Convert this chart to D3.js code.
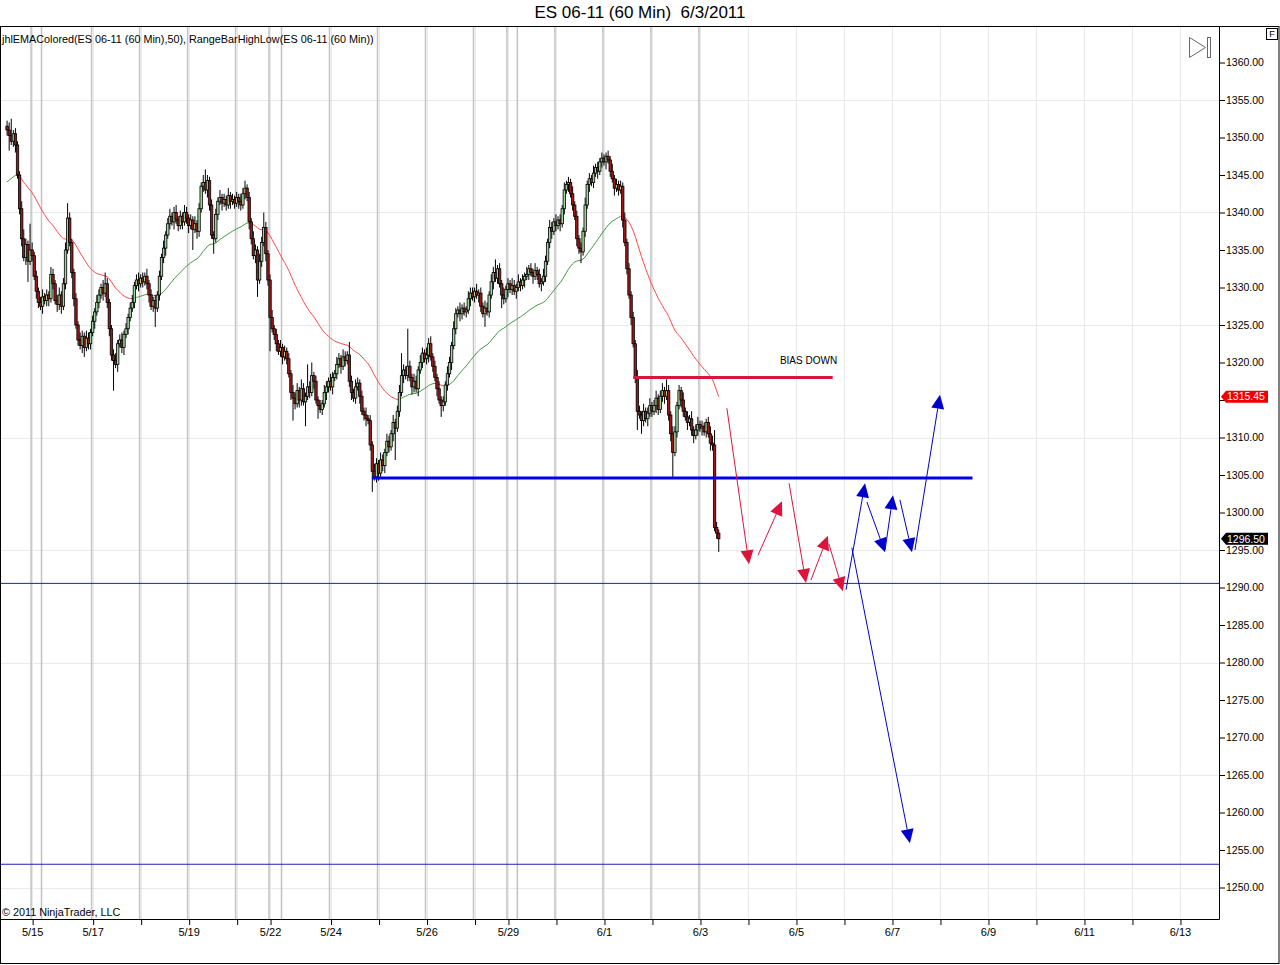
<!DOCTYPE html>
<html>
<head>
<meta charset="utf-8">
<title>ES 06-11 (60 Min) 6/3/2011</title>
<script src="https://cdnjs.cloudflare.com/ajax/libs/d3/7.8.5/d3.min.js"></script>
<style>
  body { margin: 0; background: #fff; }
  svg { display: block; font-family: "Liberation Sans", Arial, sans-serif; }
</style>
</head>
<body>
<div id="chart"></div>
<script>
// ---- data: hourly ES 06-11 bars, first bar index = 1, open of each bar = previous close
const firstBar = 1;
const firstOpen = 1351.5;
const closes = [
  1351.0, 1350.25, 1349.5, 1350.5, 1349.0, 1345.0, 1340.5, 1336.5, 1334.0, 1335.75, 1333.5, 1335.0, 1334.25,
  1331.5, 1329.5, 1328.0, 1327.5, 1328.75, 1328.25, 1329.0, 1328.5, 1331.75, 1330.5, 1328.25, 1327.75, 1329.0, 1327.5,
  1330.5, 1335.0, 1339.25, 1336.0, 1332.0, 1328.5, 1325.0, 1323.0, 1322.25, 1323.5, 1322.0, 1323.25, 1322.5,
  1324.0, 1325.5, 1326.75, 1328.0, 1329.0, 1330.0, 1329.25, 1330.5, 1328.0, 1324.5, 1321.0, 1320.25, 1319.75, 1322.5, 1323.0,
  1322.0, 1323.75, 1324.5, 1326.0, 1327.25, 1328.0, 1330.25, 1331.0, 1330.5, 1331.25, 1330.75, 1331.5, 1330.5, 1329.0, 1327.5,
  1328.25, 1327.25, 1329.0, 1331.5, 1334.0, 1335.25, 1337.0, 1338.5, 1339.5, 1338.75, 1340.0, 1339.0, 1338.25, 1339.5, 1338.75,
  1340.0, 1339.25, 1338.25, 1339.0,
  1337.75, 1338.5, 1337.5, 1340.5, 1343.5, 1344.0, 1343.0, 1344.25, 1341.0, 1337.0, 1336.5, 1339.75, 1341.5, 1342.0, 1341.25,
  1341.75, 1341.0, 1342.25, 1341.5, 1341.75, 1341.25, 1342.0, 1341.5, 1341.0, 1342.5, 1343.25, 1342.0,
  1338.75, 1336.5, 1334.25, 1335.0, 1331.0, 1333.5, 1336.0, 1338.0, 1334.5, 1331.0, 1326.0, 1324.5, 1323.75, 1322.5, 1321.5,
  1322.0, 1320.75, 1321.5, 1320.5, 1318.5, 1316.0, 1315.25, 1314.5,
  1316.25, 1315.0, 1316.5, 1314.75, 1315.5, 1316.75, 1316.0, 1318.25, 1317.5, 1315.0, 1314.25, 1313.75, 1314.5, 1316.0, 1316.75,
  1317.5, 1316.75, 1318.0, 1318.5, 1319.75, 1320.5, 1319.5, 1320.75, 1320.25, 1321.0, 1317.5, 1316.0, 1315.25, 1316.75, 1317.25,
  1315.5, 1313.5, 1313.0, 1312.5, 1312.25, 1309.0, 1305.5, 1304.75, 1306.5, 1305.25, 1307.0, 1306.25,
  1308.0, 1309.5, 1308.75, 1310.5, 1312.0, 1311.25, 1313.5, 1316.0, 1318.25, 1319.0, 1318.25, 1319.5, 1318.0, 1316.75, 1317.5,
  1316.5, 1319.0, 1320.0, 1321.25, 1320.5, 1321.0, 1322.5, 1320.75, 1319.5, 1318.0, 1316.5, 1315.0, 1314.25, 1314.75, 1317.0,
  1318.5, 1320.0, 1322.25, 1324.5, 1326.5, 1327.0,
  1326.5, 1327.25, 1326.75, 1327.0, 1328.5, 1329.25, 1328.75, 1329.5, 1329.0, 1329.25, 1327.5, 1326.5, 1327.25, 1326.75, 1329.0,
  1330.75, 1332.0, 1331.25, 1332.5, 1330.5, 1329.0, 1328.5, 1329.75, 1330.5, 1329.75, 1330.25, 1329.5, 1330.0, 1330.75, 1330.25,
  1331.0, 1331.5, 1331.75, 1332.5, 1332.0, 1331.5, 1332.25, 1331.75, 1330.5,
  1330.75, 1331.5, 1333.5, 1336.0, 1338.0, 1337.5, 1338.75, 1338.25, 1339.0, 1338.5, 1340.5, 1343.0, 1343.75, 1344.0, 1342.5,
  1341.0, 1339.5, 1336.5, 1335.25, 1334.75, 1337.5, 1341.0, 1343.75, 1344.5, 1344.0, 1345.25, 1346.0, 1345.5, 1346.75, 1347.25,
  1346.75, 1347.5, 1347.0, 1345.5, 1344.5, 1343.25, 1343.75, 1343.0, 1343.5,
  1339.0, 1336.0, 1332.5, 1329.0, 1326.0, 1322.5, 1318.0, 1313.5, 1313.0, 1312.25, 1313.5, 1312.5, 1313.25, 1314.25, 1313.5,
  1314.25, 1315.25, 1313.75, 1315.5, 1316.25, 1315.5, 1316.25, 1313.0, 1310.5, 1308.0, 1310.75, 1314.25, 1316.25, 1315.0, 1313.5,
  1312.75, 1312.0, 1312.5, 1311.0, 1310.25, 1311.0, 1311.75, 1311.25, 1311.5, 1310.75, 1312.0, 1310.5, 1309.25, 1309.0, 1298.0,
  1297.25, 1296.5
];
// wick length above max(open, close) and below min(open, close), in points
const wickUp = [
  0.75, 1.0, 2.25, 0.5, 0.75, 0.5, 0.5, 1.0, 1.25, 0.75,  0.5, 3.5, 1.0, 0.5, 0.75, 0.5, 0.75, 1.0, 0.5, 0.75,
  0.5, 1.0, 0.75, 0.5, 0.75, 1.0, 0.5, 0.75, 1.0, 2.0,    0.75, 0.5, 0.5, 0.75, 0.5, 1.0, 0.75, 0.5, 1.0, 0.75,
  0.5, 0.75, 0.5, 1.0, 0.75, 0.5, 1.0, 1.5, 0.75, 0.5,    0.5, 0.75, 1.0, 0.5, 0.75, 1.0, 0.5, 0.75, 0.5, 0.75,
  1.0, 0.5, 0.75, 1.0, 0.5, 0.75, 0.5, 1.0, 0.5, 0.75,    0.5, 0.75, 0.5, 0.75, 0.5, 1.0, 0.5, 0.75, 1.0, 0.5,
  0.75, 1.0, 0.5, 0.75, 0.5, 1.0, 0.75, 0.5, 0.75, 0.5,   1.0, 0.5, 0.75, 0.5, 1.0, 1.75, 0.75, 0.5, 0.75, 0.5,
  0.75, 0.5, 1.0, 0.5, 0.75, 0.5, 1.0, 0.5, 0.75, 0.5,    0.75, 0.5, 1.0, 0.75, 1.0, 0.5, 0.75, 0.5, 1.0, 0.75,
  0.5, 1.0, 0.75, 2.0, 0.75, 0.5, 0.75, 1.0, 0.5, 0.75,   0.5, 1.0, 0.5, 0.75, 0.5, 0.75, 0.5, 1.0, 0.75, 1.0,
  0.5, 1.25, 0.75, 0.5, 3.0, 0.75, 1.75, 0.5, 0.75, 0.5,  0.75, 0.5, 1.0, 0.75, 0.5, 1.0, 0.75, 0.5, 1.0, 0.75,
  0.5, 1.0, 0.75, 0.5, 1.75, 0.75, 0.5, 1.0, 0.75, 0.5,   0.75, 0.5, 1.0, 0.5, 0.75, 0.5, 1.0, 0.75, 0.5, 1.0,
  0.75, 0.5, 1.0, 0.75, 0.5, 1.0, 0.5, 0.75, 1.0, 3.0,    0.75, 0.5, 5.0, 0.75, 0.5, 1.0, 0.75, 0.5, 1.0, 0.75,
  0.5, 1.0, 0.75, 1.0, 0.5, 0.75, 0.5, 1.0, 0.5, 0.75,    0.5, 1.0, 0.75, 0.5, 1.0, 0.75, 0.5, 1.0, 0.5, 0.75,
  0.5, 1.0, 0.75, 0.75, 0.5, 1.0, 0.5, 0.75, 0.5, 1.0,    0.75, 0.5, 1.0, 0.75, 1.75, 0.5, 0.75, 0.5, 1.0, 0.5,
  0.75, 0.5, 1.0, 0.75, 0.5, 1.0, 0.5, 0.75, 0.5, 1.0,    0.5, 0.75, 0.5, 1.0, 0.5, 0.75, 0.5, 1.0, 0.75, 0.5,
  1.0, 0.75, 0.5, 1.0, 0.5, 0.75, 0.5, 1.0, 0.5, 0.75,    0.5, 1.0, 0.5, 0.75, 0.5, 0.75, 0.5, 1.0, 0.5, 0.75,
  0.5, 1.0, 0.5, 0.75, 0.5, 0.75, 0.5, 0.5, 0.75, 0.5,    1.0, 0.5, 0.75, 0.5, 0.75, 0.5, 1.0, 0.5, 0.75, 0.5,
  0.75, 0.5, 1.0, 0.75, 0.5, 1.0, 0.5, 0.75, 1.0, 0.5,    0.75, 1.0, 0.5, 0.75, 1.0, 0.5, 1.5, 0.75, 0.5, 1.0,
  0.75, 0.5, 0.75, 0.5, 1.0, 0.5, 0.75, 0.5, 1.0, 0.5,    0.75, 1.0, 0.5, 0.75, 0.5, 0.5, 0.75, 1.0, 1.0, 2.0,
  0.75, 0.5
];
const wickDn = [
  0.75, 2.0, 0.5, 0.75, 1.0, 0.5, 0.75, 1.0, 0.5, 1.0,    2.75, 0.5, 0.75, 0.5, 1.0, 0.75, 0.5, 1.0, 0.5, 0.75,
  1.0, 0.5, 0.75, 0.5, 1.0, 0.75, 1.0, 0.5, 0.75, 0.5,    0.5, 0.75, 1.0, 0.5, 0.75, 0.5, 1.0, 1.25, 0.5, 0.75,
  0.75, 0.5, 1.0, 0.5, 0.75, 0.5, 1.0, 0.5, 0.75, 1.0,    0.75, 4.0, 0.5, 1.0, 0.5, 0.75, 1.0, 0.5, 0.75, 0.5,
  0.5, 0.75, 0.5, 1.0, 0.5, 0.75, 0.5, 0.75, 1.0, 0.5,    0.75, 2.5, 0.5, 0.75, 0.5, 0.75, 1.0, 0.5, 0.75, 0.5,
  1.0, 0.5, 0.75, 0.5, 1.0, 0.5, 0.75, 1.0, 0.5, 2.75,    0.5, 1.0, 0.75, 0.5, 0.75, 0.5, 1.0, 0.75, 0.5, 2.0,
  0.5, 0.75, 0.5, 1.0, 0.5, 0.75, 0.5, 1.0, 0.5, 0.75,    0.5, 1.0, 0.75, 0.5, 0.75, 0.5, 1.0, 0.75, 0.5, 1.0,
  2.25, 0.5, 0.75, 0.5, 1.0, 0.75, 4.5, 0.5, 0.75, 1.0,   0.5, 0.75, 1.0, 0.5, 0.75, 0.5, 1.0, 3.0, 0.75, 0.5,
  1.0, 0.75, 0.5, 3.25, 0.5, 0.75, 0.5, 1.0, 0.5, 1.75,   0.5, 0.75, 0.5, 1.0, 0.75, 0.5, 1.0, 0.5, 0.75, 0.5,
  1.0, 0.5, 0.75, 0.5, 0.75, 1.0, 0.5, 0.75, 0.5, 1.0,    0.5, 0.75, 1.0, 0.5, 0.75, 2.75, 0.5, 0.75, 1.0, 0.5,
  0.75, 1.0, 0.5, 0.75, 0.5, 1.0, 4.25, 0.5, 0.75, 0.5,   1.0, 0.5, 0.75, 0.5, 1.0, 0.75, 0.5, 1.0, 0.5, 0.75,
  0.5, 0.75, 1.0, 0.5, 0.75, 0.5, 1.0, 0.5, 1.5, 0.75,    0.5, 0.75, 0.5, 1.0, 0.5, 0.75, 0.5, 1.0, 0.75, 0.5,
  0.75, 0.5, 1.0, 0.5, 0.75, 0.5, 1.0, 0.75, 0.5, 1.75,   0.5, 0.75, 0.5, 1.0, 0.5, 0.75, 0.5, 1.75, 0.75, 0.5,
  1.0, 0.5, 0.75, 0.5, 1.0, 0.5, 0.75, 0.5, 1.0, 0.5,     0.75, 0.5, 1.0, 0.5, 0.75, 0.5, 1.0, 0.5, 0.75, 0.5,
  0.75, 1.0, 0.5, 0.75, 0.5, 1.0, 0.5, 0.75, 0.5, 1.0,    0.5, 0.75, 0.5, 1.0, 0.75, 1.5, 0.5, 0.75, 0.5, 1.0,
  0.5, 0.75, 0.5, 1.0, 0.5, 0.75, 0.5, 1.0, 0.5, 0.75,    0.5, 1.0, 0.5, 0.75, 0.5, 1.0, 0.5, 0.75, 0.5, 1.0,
  0.5, 0.75, 2.5, 0.5, 1.75, 0.75, 0.5, 1.0, 0.5, 0.75,   0.5, 1.0, 0.75, 0.5, 0.75, 1.0, 0.5, 0.75, 1.0, 3.25,
  0.5, 0.75, 0.5, 1.0, 0.75, 0.5, 1.0, 0.5, 0.75, 1.0,    0.5, 0.75, 0.5, 1.0, 0.5, 0.75, 0.5, 1.0, 0.75, 0.5,
  0.75, 1.75
];

// EMA(50) indicator, started from the value it had before the first visible bar
const emaPeriod = 50;
const emaSeed = 1343.8;

// x axis: bar index of each tick and its label ("" = tick without label)
const tickBars   = [13, 42, 65, 88, 111, 127, 156, 179, 202, 225, 241, 264, 287, 310, 333,
                    356, 379, 402, 425, 448, 471, 494, 517, 540, 563];
const tickLabels = ["5/15", "5/17", "", "5/19", "", "5/22", "5/24", "", "5/26", "", "5/29", "", "6/1", "", "6/3",
                    "", "6/5", "", "6/7", "", "6/9", "", "6/11", "", "6/13"];
const sessionBreaks = [12.5, 17.5, 41.5, 64.5, 87.5, 110.5, 126.5, 132.5, 155.5, 178.5, 201.5,
                       224.5, 240.5, 245.5, 263.5, 286.5, 309.5, 332.5];
const priceTicks = d3.range(1250, 1361, 5);
const gridPrices = [1250, 1265, 1280, 1295, 1310, 1325, 1340, 1355];

// drawings: [barFrom, barTo, price]
const biasLine = [301, 396.6, 1318.0];
const supportLine = [175.8, 463.6, 1304.6];
const fullWidthLines = [1290.55, 1253.1];
const biasText = {bar: 371.3, price: 1320.3, text: "BIAS DOWN"};
// arrows: [barFrom, priceFrom, barTo, priceTo]
const redArrows = [
  [345.9, 1313.9, 356.5, 1293.1],
  [360.8, 1294.3, 372.3, 1301.5],
  [375.7, 1303.9, 383.8, 1290.6],
  [386.2, 1291.0, 394.3, 1296.9],
  [394.8, 1295.8, 401.5, 1289.5]
];
const blueArrows = [
  [403.0, 1289.7, 412.1, 1303.9],
  [405.8, 1295.3, 433.6, 1255.9],
  [413.0, 1301.4, 421.7, 1294.7],
  [421.7, 1295.0, 425.5, 1302.3],
  [428.8, 1301.7, 434.6, 1294.7],
  [436.0, 1295.0, 448.0, 1315.7]
];

// ---- layout
const W = 1280, H = 965;
const plot = {left: 0, top: 26, right: 1219, bottom: 919};
const barSpacing = 48 / 23;

const x = d3.scaleLinear().domain([0, 582]).range([5, 5 + 582 * barSpacing]);
const y = d3.scaleLinear().domain([1250, 1360]).range([887.5, 62.5]);

// build bars
const bars = closes.map((c, k) => {
  const o = k === 0 ? firstOpen : closes[k - 1];
  return {
    i: firstBar + k,
    open: o,
    close: c,
    high: Math.max(o, c) + wickUp[k],
    low: Math.min(o, c) - wickDn[k]
  };
});
const alpha = 2 / (emaPeriod + 1);
let prev = emaSeed;
bars.forEach(b => { b.ema = prev + alpha * (b.close - prev); b.emaPrev = prev; prev = b.ema; });
const lastBar = bars[bars.length - 1];
const markers = [lastBar.ema, lastBar.close];

const svg = d3.select("#chart").append("svg")
  .attr("width", W).attr("height", H);

svg.append("rect").attr("width", W).attr("height", H).attr("fill", "#fff");

svg.append("defs").append("clipPath").attr("id", "plotClip")
  .append("rect")
  .attr("x", plot.left).attr("y", plot.top)
  .attr("width", plot.right - plot.left).attr("height", plot.bottom - plot.top);

const g = svg.append("g").attr("clip-path", "url(#plotClip)");

// grid
g.selectAll(".hgrid").data(gridPrices).enter().append("line")
  .attr("x1", plot.left).attr("x2", plot.right)
  .attr("y1", d => Math.round(y(d)) + 0.5).attr("y2", d => Math.round(y(d)) + 0.5)
  .attr("stroke", "#e9e9e9");
g.selectAll(".vgrid").data(tickBars).enter().append("line")
  .attr("x1", d => Math.round(x(d)) + 0.5).attr("x2", d => Math.round(x(d)) + 0.5)
  .attr("y1", plot.top).attr("y2", plot.bottom)
  .attr("stroke", "#e9e9e9");

// session breaks
g.selectAll(".sess").data(sessionBreaks).enter().append("line")
  .attr("x1", d => x(d)).attr("x2", d => x(d))
  .attr("y1", plot.top).attr("y2", plot.bottom)
  .attr("stroke", "#c2c2c2").attr("stroke-width", 1.5);

// thin horizontal lines
g.selectAll(".hline").data(fullWidthLines).enter().append("line")
  .attr("x1", plot.left).attr("x2", plot.right)
  .attr("y1", d => y(d)).attr("y2", d => y(d))
  .attr("stroke", "#1e1eb4").attr("stroke-width", 1);

// EMA colored by direction
const emaG = g.append("g");
emaG.selectAll("line").data(bars.slice(1)).enter().append("line")
  .attr("x1", d => x(d.i - 1)).attr("y1", d => y(d.emaPrev))
  .attr("x2", d => x(d.i)).attr("y2", d => y(d.ema))
  .attr("stroke", d => d.ema >= d.emaPrev ? "#3f963f" : "#ff4848")
  .attr("stroke-width", 1);

// candles
const candle = g.append("g").selectAll("g").data(bars).enter().append("g");
candle.append("line")
  .attr("x1", d => x(d.i)).attr("x2", d => x(d.i))
  .attr("y1", d => y(d.high)).attr("y2", d => y(d.low))
  .attr("stroke", "#000").attr("stroke-width", 1);
candle.append("rect")
  .attr("x", d => x(d.i) - 1.2)
  .attr("width", 2.4)
  .attr("y", d => y(Math.max(d.open, d.close)))
  .attr("height", d => Math.max(0.8, Math.abs(y(d.open) - y(d.close))))
  .attr("fill", d => d.close >= d.open ? "#9ad79a" : "#a31616")
  .attr("stroke", "#000").attr("stroke-width", 0.8);

// drawn lines
g.append("line")
  .attr("x1", x(biasLine[0])).attr("x2", x(biasLine[1]))
  .attr("y1", y(biasLine[2])).attr("y2", y(biasLine[2]))
  .attr("stroke", "#dc143c").attr("stroke-width", 3);
g.append("line")
  .attr("x1", x(supportLine[0])).attr("x2", x(supportLine[1]))
  .attr("y1", y(supportLine[2])).attr("y2", y(supportLine[2]))
  .attr("stroke", "#0000f0").attr("stroke-width", 3);

g.append("text")
  .attr("x", x(biasText.bar)).attr("y", y(biasText.price))
  .attr("dy", "0.35em")
  .attr("font-size", 10)
  .attr("fill", "#000")
  .text(biasText.text);

// arrows
function drawArrows(list, color) {
  const headLen = 14, headHalf = 6.5;
  const ag = g.append("g");
  list.forEach(a => {
    const x0 = x(a[0]), y0 = y(a[1]), x1 = x(a[2]), y1 = y(a[3]);
    const ang = Math.atan2(y1 - y0, x1 - x0);
    const bx = x1 - headLen * Math.cos(ang), by = y1 - headLen * Math.sin(ang);
    const px = -Math.sin(ang) * headHalf, py = Math.cos(ang) * headHalf;
    ag.append("line")
      .attr("x1", x0).attr("y1", y0).attr("x2", bx).attr("y2", by)
      .attr("stroke", color).attr("stroke-width", 1);
    ag.append("path")
      .attr("d", `M${x1},${y1}L${bx + px},${by + py}L${bx - px},${by - py}Z`)
      .attr("fill", color);
  });
}
drawArrows(redArrows, "#dc143c");
drawArrows(blueArrows, "#0000cd");

// axes
const yAxis = d3.axisRight(y).tickValues(priceTicks).tickFormat(d3.format(".2f"))
  .tickSize(6).tickPadding(1);
const yAxisG = svg.append("g")
  .attr("transform", `translate(${plot.right},0)`)
  .call(yAxis);
yAxisG.select(".domain").remove();
yAxisG.selectAll("text").attr("font-size", 10.5).attr("font-family", "Liberation Sans, Arial, sans-serif");
// a tick label covered by a last-value marker is not shown
yAxisG.selectAll(".tick")
  .filter(d => markers.some(m => Math.abs(y(d) - y(m)) < 9))
  .select("text").remove();

const labelOf = new Map(tickBars.map((b, k) => [b, tickLabels[k]]));
const xAxis = d3.axisBottom(x).tickValues(tickBars).tickFormat(d => labelOf.get(d))
  .tickSize(6).tickPadding(3);
const xAxisG = svg.append("g")
  .attr("transform", `translate(0,${plot.bottom})`)
  .call(xAxis);
xAxisG.select(".domain").remove();
xAxisG.selectAll(".tick line").attr("transform", "translate(0.5,0)");
xAxisG.selectAll("text").attr("font-size", 11).attr("font-family", "Liberation Sans, Arial, sans-serif");

// axis lines and frame
svg.append("line").attr("x1", plot.left).attr("x2", plot.right + 0.5)
  .attr("y1", plot.bottom + 0.5).attr("y2", plot.bottom + 0.5).attr("stroke", "#000");
svg.append("line").attr("x1", plot.right + 0.5).attr("x2", plot.right + 0.5)
  .attr("y1", plot.top).attr("y2", plot.bottom + 0.5).attr("stroke", "#000");
svg.append("rect").attr("x", 0.5).attr("y", plot.top + 0.5)
  .attr("width", W - 1.5).attr("height", H - plot.top - 2)
  .attr("fill", "none").attr("stroke", "#000");

// last value markers
function priceMarker(value, fill) {
  const yc = y(value), x0 = plot.right + 2, x1 = 1268, h = 6;
  svg.append("path")
    .attr("d", `M${x0},${yc}L${x0 + 5},${yc - h}L${x1},${yc - h}L${x1},${yc + h}L${x0 + 5},${yc + h}Z`)
    .attr("fill", fill);
  svg.append("text")
    .attr("x", x0 + 6).attr("y", yc).attr("dy", "0.36em")
    .attr("font-size", 10.5).attr("fill", "#fff")
    .text(d3.format(".2f")(value));
}
priceMarker(markers[0], "#f00000");
priceMarker(markers[1], "#000");

// texts
svg.append("text")
  .attr("x", W / 2).attr("y", 12).attr("dy", "0.35em")
  .attr("text-anchor", "middle").attr("font-size", 17)
  .style("white-space", "pre")
  .text("ES 06-11 (60 Min)  6/3/2011");
svg.append("text")
  .attr("x", 2).attr("y", 39).attr("dy", "0.35em")
  .attr("font-size", 10.8)
  .text("jhlEMAColored(ES 06-11 (60 Min),50), RangeBarHighLow(ES 06-11 (60 Min))");
svg.append("text")
  .attr("x", 2).attr("y", 912).attr("dy", "0.35em")
  .attr("font-size", 10.8)
  .text("© 2011 NinjaTrader, LLC");

// F box
svg.append("rect").attr("x", 1266.5).attr("y", 28.5).attr("width", 11).attr("height", 11)
  .attr("fill", "#fff").attr("stroke", "#000");
svg.append("text").attr("x", 1272).attr("y", 34).attr("dy", "0.36em")
  .attr("text-anchor", "middle").attr("font-size", 9).text("F");

// scroll-to-end icon
svg.append("path").attr("d", "M1189.5,37.5L1205.5,47.5L1189.5,57.5Z")
  .attr("fill", "none").attr("stroke", "#666");
svg.append("rect").attr("x", 1207.5).attr("y", 37.5).attr("width", 3).attr("height", 20)
  .attr("fill", "none").attr("stroke", "#666");
</script>
</body>
</html>
